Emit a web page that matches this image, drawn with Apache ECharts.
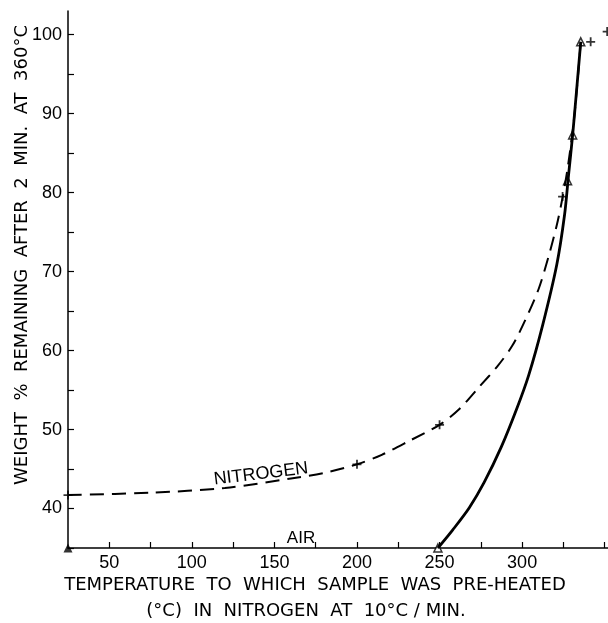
<!DOCTYPE html>
<html>
<head>
<meta charset="utf-8">
<script src="https://cdn.jsdelivr.net/npm/echarts@6/dist/echarts.min.js"></script>
<style>
html, body { margin: 0; padding: 0; background: #fff; }
#chart { width: 608px; height: 623px; }
</style>
</head>
<body>
<div id="chart"></div>
<script>
// curve
const nitrogenX = [25, 75, 120, 160, 180, 200, 215, 232, 250, 262, 274, 285, 294, 302, 310, 316, 321, 324.5, 327.5, 331, 333.5, 335.5];
const nitrogenY = [41.7, 42.0, 42.6, 43.8, 44.5, 45.6, 46.8, 48.6, 50.6, 52.6, 55.4, 58.0, 60.6, 63.9, 67.8, 71.9, 75.9, 79.4, 83, 88.5, 94, 99.1];
const airX = [249, 258, 268, 277, 287.4, 296.5, 304, 312.4, 321, 325.7, 328, 330.6, 333, 335.5];
const airY = [35, 37.3, 40.1, 43.3, 47.8, 52.5, 56.9, 63.2, 70.9, 77.2, 82, 87.3, 93, 99.1];

// plotted points
const plusX = [25, 200, 250, 324.5, 341.5, 351.5];
const plusY = [41.7, 45.6, 50.6, 79.5, 99.1, 100.4];
const triX = [249, 327.5, 330.6, 335.5];
const triY = [35, 81.5, 87.3, 99.1];
const filledTriX = [25];
const filledTriY = [35];

const xTicks = [50, 75, 100, 125, 150, 175, 200, 225, 250, 275, 300, 325, 350];
const xLabels = [50, 100, 150, 200, 250, 300];
const yTicks = [35, 40, 45, 50, 55, 60, 65, 70, 75, 80, 85, 90, 95, 100];
const yLabels = [40, 50, 60, 70, 80, 90, 100];

const zip = (a, b) => a.map((v, i) => [v, b[i]]);
const font = 'Liberation Sans';
const plus = 'path://M4,0H6V4H10V6H6V10H4V6H0V4H4Z';

const chart = echarts.init(document.getElementById('chart'));
chart.setOption({
    animation: false,
    grid: { left: 68, right: 0, top: 11, bottom: 75 },
    xAxis: {
        type: 'value', min: 25, max: 352,
        axisLine: { lineStyle: { color: '#000', width: 1.5 } },
        axisTick: { inside: true, length: 6, customValues: xTicks, lineStyle: { color: '#000', width: 1.2 } },
        axisLabel: { customValues: xLabels, color: '#000', fontFamily: font, fontSize: 18, margin: 6 },
        splitLine: { show: false }
    },
    yAxis: {
        type: 'value', min: 35, max: 103,
        axisLine: { show: true, lineStyle: { color: '#000', width: 1.5 } },
        axisTick: { show: true, inside: true, length: 6, customValues: yTicks, lineStyle: { color: '#000', width: 1.2 } },
        axisLabel: { customValues: yLabels, color: '#000', fontFamily: font, fontSize: 18, margin: 6 },
        splitLine: { show: false }
    },
    graphic: [
        { type: 'text', x: 22, y: 255, rotation: Math.PI / 2, style: { text: 'WEIGHT  %  REMAINING  AFTER  2  MIN.  AT  360°C', font: '18px "DejaVu Sans"', fill: '#000', align: 'center', verticalAlign: 'middle' } },
        { type: 'text', x: 315, y: 585, style: { text: 'TEMPERATURE  TO  WHICH  SAMPLE  WAS  PRE-HEATED', font: '18px "DejaVu Sans"', fill: '#000', align: 'center', verticalAlign: 'middle' } },
        { type: 'text', x: 306, y: 611, style: { text: '(°C)  IN  NITROGEN  AT  10°C / MIN.', font: '18px "DejaVu Sans"', fill: '#000', align: 'center', verticalAlign: 'middle' } },
        { type: 'text', x: 261, y: 474, rotation: 0.12, style: { text: 'NITROGEN', font: '18px "Liberation Sans"', fill: '#000', align: 'center', verticalAlign: 'middle' } },
        { type: 'text', x: 301, y: 538, style: { text: 'AIR', font: '17px "Liberation Sans"', fill: '#000', align: 'center', verticalAlign: 'middle' } }
    ],
    series: [
        {
            name: 'NITROGEN', type: 'line', data: zip(nitrogenX, nitrogenY), smooth: 0.3,
            showSymbol: false, lineStyle: { color: '#000', width: 2, type: [14, 8] }
        },
        {
            name: 'AIR', type: 'line', data: zip(airX, airY), smooth: 0.3,
            showSymbol: false, lineStyle: { color: '#000', width: 2.8 }
        },
        {
            type: 'scatter', data: zip(plusX, plusY), symbol: plus, symbolSize: 9,
            itemStyle: { color: '#000' }
        },
        {
            type: 'scatter', data: zip(triX, triY), symbol: 'triangle', symbolSize: 8,
            itemStyle: { color: '#fff', borderColor: '#000', borderWidth: 1.5 }
        },
        {
            type: 'scatter', data: zip(filledTriX, filledTriY), symbol: 'triangle', symbolSize: 9,
            itemStyle: { color: '#000' }
        }
    ]
});
</script>
</body>
</html>
